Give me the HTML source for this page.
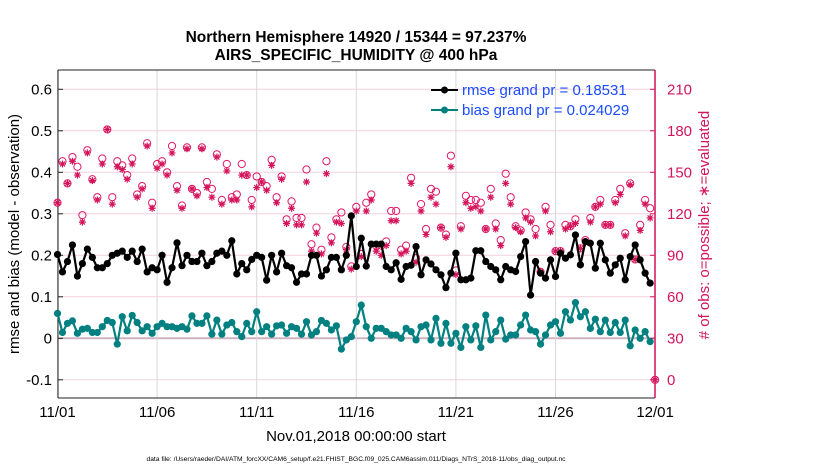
<!DOCTYPE html>
<html><head><meta charset="utf-8"><style>
body{margin:0;background:#fff;}
svg text{font-family:"Liberation Sans",Arial,sans-serif;}
</style></head><body>
<svg id="chart" width="830" height="470" xmlns="http://www.w3.org/2000/svg">
<text x="356" y="42" text-anchor="middle" font-size="15.5" font-weight="bold">Northern Hemisphere 14920 / 15344 = 97.237%</text>
<text x="356" y="60" text-anchor="middle" font-size="15.5" font-weight="bold">AIRS_SPECIFIC_HUMIDITY @ 400 hPa</text>
<g id="grid"></g>
<g id="axes"></g>
<g id="marks"></g>
<text transform="translate(19,234) rotate(-90)" text-anchor="middle" font-size="15">rmse and bias (model - observation)</text>
<text transform="translate(709,225) rotate(-90)" text-anchor="middle" font-size="15" fill="#d4145a"># of obs: o=possible; ∗=evaluated</text>
<text x="356" y="441" text-anchor="middle" font-size="15">Nov.01,2018 00:00:00 start</text>
<text x="356" y="461" text-anchor="middle" font-size="6.7">data file: /Users/raeder/DAI/ATM_forcXX/CAM6_setup/f.e21.FHIST_BGC.f09_025.CAM6assim.011/Diags_NTrS_2018-11/obs_diag_output.nc</text>
<g>
<line x1="431" y1="90" x2="458" y2="90" stroke="#000" stroke-width="2"/><circle cx="444.5" cy="90" r="3.5" fill="#000"/>
<text x="462" y="95" font-size="15" fill="#1a4cff">rmse grand pr = 0.18531</text>
<line x1="431" y1="110" x2="458" y2="110" stroke="#008080" stroke-width="2"/><circle cx="444.5" cy="110" r="3.5" fill="#008080"/>
<text x="462" y="115" font-size="15" fill="#1a4cff">bias grand pr = 0.024029</text>
</g>
</svg>
<script>
const rmse=[0.202,0.16,0.185,0.225,0.15,0.18,0.215,0.195,0.17,0.17,0.18,0.2,0.205,0.21,0.195,0.21,0.185,0.215,0.16,0.17,0.165,0.2,0.135,0.17,0.23,0.175,0.2,0.185,0.185,0.205,0.175,0.185,0.205,0.21,0.2,0.235,0.155,0.18,0.165,0.19,0.2,0.195,0.14,0.2,0.16,0.205,0.175,0.17,0.135,0.155,0.155,0.2,0.2,0.15,0.165,0.195,0.195,0.165,0.2,0.295,0.173,0.241,0.174,0.227,0.227,0.227,0.173,0.165,0.182,0.142,0.173,0.176,0.221,0.153,0.189,0.179,0.165,0.153,0.122,0.157,0.205,0.141,0.141,0.145,0.211,0.211,0.185,0.173,0.165,0.141,0.173,0.165,0.161,0.197,0.233,0.104,0.185,0.157,0.145,0.189,0.149,0.205,0.193,0.201,0.249,0.177,0.233,0.229,0.169,0.229,0.189,0.157,0.177,0.193,0.141,0.197,0.225,0.189,0.157,0.133];
const bias=[0.06,0.014,0.036,0.042,0.012,0.022,0.024,0.014,0.014,0.028,0.043,0.038,-0.014,0.052,0.018,0.055,0.038,0.018,0.028,0.012,0.028,0.036,0.028,0.028,0.024,0.028,0.022,0.054,0.036,0.036,0.054,0.01,0.044,0.01,0.032,0.038,0.016,0.004,0.036,0.016,0.064,0.016,0.028,0.01,0.03,0.032,0.012,0.028,0.024,0.01,0.04,0.008,0.016,0.043,0.036,0.02,0.03,-0.026,-0.004,0.004,0.04,0.08,0.028,0.0,0.024,0.024,0.016,0.008,0.008,0.0,0.024,0.016,-0.004,0.028,0.032,-0.004,0.048,-0.012,0.036,-0.012,0.012,-0.022,0.028,-0.004,0.03,-0.022,0.056,-0.004,0.016,0.044,-0.002,0.008,0.008,0.032,0.056,0.02,0.016,-0.014,0.008,0.032,0.04,0.012,0.064,0.044,0.086,0.052,0.064,0.024,0.046,0.016,0.044,0.014,0.038,0.014,0.044,-0.018,0.02,0.0,0.016,-0.008];
const possible=[128,158,142,161,154,119,166,145,132,160,181,132,158,155,148,160,134,140,171,128,156,158,150,169,140,126,168,138,135,168,143,138,163,130,156,132,134,156,148,130,147,143,140,159,132,147,116,129,117,117,152,98,110,94,158,103,116,121,96,82,125,91,128,134,97,97,100,122,122,94,97,146,88,127,109,138,136,110,105,162,79,111,133,130,130,128,109,138,113,101,149,132,111,108,121,116,109,78,125,112,93,93,112,111,116,95,101,117,125,130,112,112,130,138,106,142,87,112,130,124,0];
const evaluated=[128,156,142,158,148,114,164,144,130,156,181,127,154,152,145,156,132,138,169,124,153,156,148,164,137,124,167,138,133,167,139,132,161,127,151,130,130,148,148,125,139,143,137,155,128,145,113,124,112,112,143,93,106,91,149,99,114,113,94,80,122,89,122,130,93,90,97,115,115,91,93,142,85,122,105,132,127,110,103,154,76,109,128,124,125,122,109,132,109,97,142,127,110,107,117,114,104,78,122,107,93,93,109,111,113,95,99,114,125,127,112,112,128,134,104,141,87,108,127,117,0];
const tickVals=[-0.1,0,0.1,0.2,0.3,0.4,0.5,0.6];
const tickLabels=["-0.1","0","0.1","0.2","0.3","0.4","0.5","0.6"];
const rightTicks=[0,30,60,90,120,150,180,210];
const dateLabels=["11/01","11/06","11/11","11/16","11/21","11/26","12/01"];
const dateDays=[0,5,10,15,20,25,30];

const NS="http://www.w3.org/2000/svg";
const L=58,R=655,T=70,B=398;
const X0=57.5,DX=19.92;
const xd=d=>X0+d*DX;
const xi=i=>xd(i/4);
const y=v=>338.3-v*415;
const y2=c=>y((c-30)/300);
function mk(tag,attrs,parent){const e=document.createElementNS(NS,tag);for(const k in attrs)e.setAttribute(k,attrs[k]);parent.appendChild(e);return e;}
const grid=document.getElementById('grid'),axes=document.getElementById('axes'),marks=document.getElementById('marks');
tickVals.forEach((v,k)=>{
  const g=mk('line',{x1:L,x2:R,y1:y(v),y2:y(v),stroke:v===0?'#cfb3c0':'#f3d0de','stroke-width':v===0?2:1},grid);
  
  
  const t=mk('text',{x:L-6,y:y(v)+5,'text-anchor':'end','font-size':15},axes);
  t.textContent=tickLabels[k];
  
  
  mk('line',{x1:L,x2:L+5,y1:y(v),y2:y(v),stroke:'#222'},axes);
});
rightTicks.forEach(c=>{
  const t=mk('text',{x:R+12,y:y2(c)+5,'font-size':15,fill:'#d4145a'},axes);
  t.textContent=c;
  
  
  mk('line',{x1:R-5,x2:R,y1:y2(c),y2:y2(c),stroke:'#d4145a'},axes);
});
dateDays.forEach((d,k)=>{
  const g=mk('line',{x1:xd(d),x2:xd(d),y1:T,y2:B,stroke:'#d8d8d8'},grid);
  
  
  const t=mk('text',{x:xd(d),y:417,'text-anchor':'middle','font-size':15},axes);
  t.textContent=dateLabels[k];
  
  
});
mk('line',{x1:L,x2:R,y1:T,y2:T,stroke:'#222'},axes);
mk('line',{x1:L,x2:R,y1:B,y2:B,stroke:'#222'},axes);
mk('line',{x1:L,x2:L,y1:T,y2:B,stroke:'#222'},axes);
mk('line',{x1:R,x2:R,y1:T,y2:B,stroke:'#d4145a','stroke-width':1.5},axes);

possible.forEach((c,i)=>{
  const o=mk('circle',{cx:xi(i),cy:y2(c),r:3.6,fill:'none',stroke:'#e0186a','stroke-width':1},marks);
  
  
});
evaluated.forEach((c,i)=>{
  const cx=xi(i),cy=y2(c),r=3.5;
  const d=`M${cx-r},${cy}H${cx+r}M${cx},${cy-r}V${cy+r}M${cx-2.5},${cy-2.5}L${cx+2.5},${cy+2.5}M${cx-2.5},${cy+2.5}L${cx+2.5},${cy-2.5}`;
  const s=mk('path',{d:d,stroke:'#d4145a','stroke-width':1.2,fill:'none'},marks);
  
  
});
function series(vals,color,name){
  const p=mk('polyline',{points:vals.map((v,i)=>xi(i)+','+y(v)).join(' '),fill:'none',stroke:color,'stroke-width':2.2},marks);
  
  
  vals.forEach((v,i)=>{
    const c=mk('circle',{cx:xi(i),cy:y(v),r:3.6,fill:color},marks);
    
    
  });
}
series(bias,'#008080','bias');
series(rmse,'#000000','rmse');
</script>
</body></html>
